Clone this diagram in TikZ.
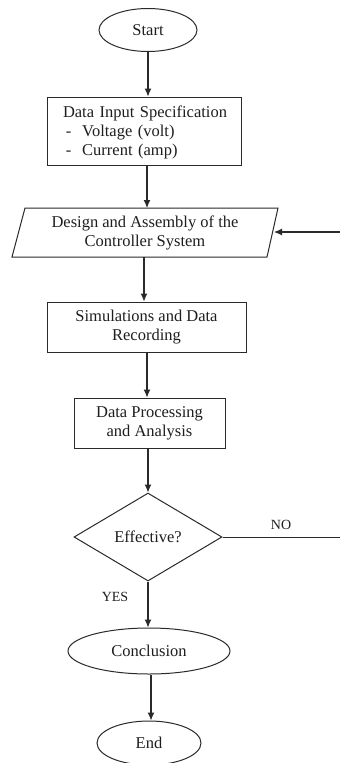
\documentclass[tikz,border=0pt]{standalone}
\usepackage{fontspec}
\setmainfont{Liberation Serif}
\usetikzlibrary{shapes.geometric,arrows.meta}
\definecolor{ln}{HTML}{2A2A2A}
\definecolor{tx}{HTML}{1E1E1E}
\tikzset{
  base/.style={draw=ln, line width=1pt, text=tx, font=\fontsize{16.5}{19}\selectfont, inner sep=0pt},
  term/.style={base, ellipse},
  proc/.style={base, rectangle, align=center},
  dec/.style={base, diamond},
  lbl/.style={text=tx, font=\fontsize{14}{16}\selectfont, inner sep=0pt},
  arr/.style={draw=ln, line width=1.1pt, -{Latex[length=8pt,width=7pt]}},
  ln/.style={draw=ln, line width=1pt}
}
\begin{document}
\begin{tikzpicture}[x=1pt,y=-1pt]
\useasboundingbox (0,0) rectangle (340,763);
\fill[white] (0,0) rectangle (340,763);
\node[term, minimum width=98, minimum height=43] (start) at (148,30) {Start};
\node[proc, minimum width=194, minimum height=68] (input) at (144,131) {};
\node[text=tx, font=\fontsize{16.5}{19}\selectfont, text width=166, align=left, inner sep=0pt] (inputtxt) at (146,132) {Data Input Specification\\\,-\ \ Voltage (volt)\\\,-\ \ Current (amp)};
% parallelogram
\coordinate (pbl) at (12,257);
\coordinate (pbr) at (267,257);
\coordinate (ptr) at (278,208);
\coordinate (ptl) at (25,208);
\draw[ln] (pbl) -- (pbr) -- (ptr) -- (ptl) -- cycle;
\node[text=tx, font=\fontsize{16.5}{19}\selectfont, align=center, inner sep=0pt] (design) at (145,233) {Design and Assembly of the\\Controller System};
\coordinate (dtop) at (147,208);
\coordinate (dbot) at (144,257);
\coordinate (dright) at (274,232);
\coordinate (fbin) at (340,232);
\node[proc, minimum width=199, minimum height=50] (sim) at (146.5,327) {Simulations and Data\\Recording};
\node[proc, minimum width=151, minimum height=50] (proc) at (149.5,423) {Data Processing\\and Analysis};
\node[dec, minimum width=148, minimum height=88, aspect=1.68] (eff) at (148,537) {Effective?};
\coordinate (noend) at (340,537);
\node[lbl] (no) at (281,525) {NO};
\node[lbl] (yes) at (115,597) {YES};
\node[term, minimum width=162, minimum height=46] (conc) at (149,651) {Conclusion};
\node[term, minimum width=104, minimum height=44] (end) at (149,743) {End};
\draw[arr] (start.south) -- (start.south |- input.north);
\draw[arr] (input.south -| dtop) -- (dtop);
\draw[arr] (fbin) -- (dright);
\draw[arr] (dbot) -- (dbot |- sim.north);
\draw[arr] (sim.south -| 147,0) -- (proc.north -| 147,0);
\draw[arr] (proc.south -| eff.north) -- (eff.north);
\draw[ln] (eff.east) -- (noend);
\draw[arr] (eff.south) -- (eff.south |- conc.north);
\draw[arr] (conc.south -| 151,0) -- (end.north -| 151,0);
\end{tikzpicture}
\end{document}
